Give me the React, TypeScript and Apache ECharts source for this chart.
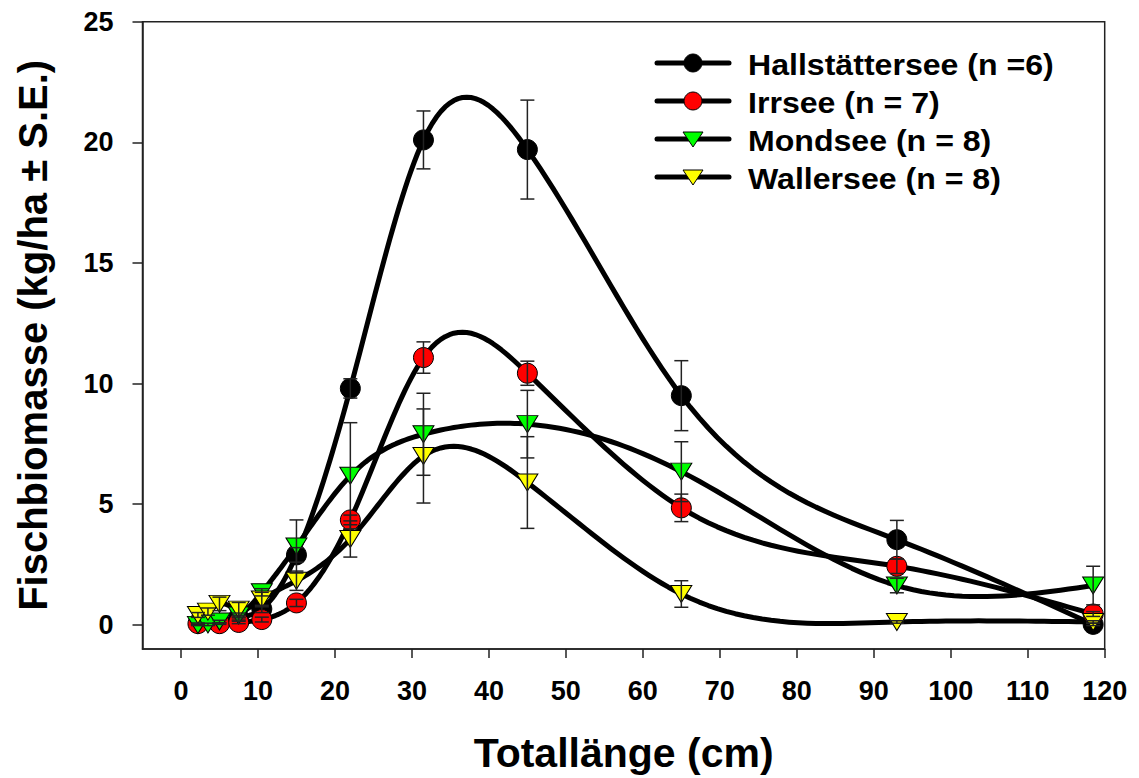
import React, { useEffect, useRef } from "react";
import * as echarts from "echarts";

// Totallänge-Klassen (cm) und Fischbiomasse (kg/ha) mit Standardfehler je See
const hallX = [7.5, 10.5, 15, 22, 31.5, 45, 65, 93, 118.5];
const hallY = [0.3, 0.66, 2.9, 9.8, 20.1, 19.7, 9.5, 3.53, 0.02];
const hallSE = [0.1, 0.15, 0.3, 0.4, 1.2, 2.05, 1.45, 0.8, 0.05];

const irrX = [2.2, 5, 7.5, 10.5, 15, 22, 31.5, 45, 65, 93, 118.5];
const irrY = [0.05, 0.05, 0.1, 0.22, 0.91, 4.35, 11.08, 10.43, 4.85, 2.43, 0.45];
const irrSE = [0.03, 0.03, 0.05, 0.1, 0.15, 0.2, 0.65, 0.5, 0.57, 0.3, 0.1];

const mondX = [2.2, 3.5, 5, 7.5, 10.5, 15, 22, 31.5, 45, 65, 93, 118.5];
const mondY = [0.0, 0.02, 0.14, 0.39, 1.35, 3.25, 6.18, 7.9, 8.32, 6.35, 1.63, 1.63];
const mondSE = [0.03, 0.05, 0.05, 0.1, 0.15, 1.1, 2.2, 1.7, 1.4, 1.24, 0.3, 0.8];

const wallX = [2.2, 3.5, 5, 7.5, 10.5, 15, 22, 31.5, 45, 65, 93, 118.5];
const wallY = [0.41, 0.55, 0.87, 0.63, 1.05, 1.83, 3.56, 7.0, 5.9, 1.28, 0.12, 0.12];
const wallSE = [0.1, 0.15, 0.28, 0.3, 0.3, 0.4, 0.75, 1.95, 1.9, 0.55, 0.05, 0.05];

const legendLabels = [
  "Hallstättersee (n =6)",
  "Irrsee (n = 7)",
  "Mondsee (n = 8)",
  "Wallersee (n = 8)",
];

const xTicks = [0, 10, 20, 30, 40, 50, 60, 70, 80, 90, 100, 110, 120];
const yTicks = [0, 5, 10, 15, 20, 25];

const FONT = "'Liberation Sans', Arial, Helvetica, sans-serif";
const AXIS_COLOR = "#222";

type Lake = {
  name: string;
  xs: number[];
  ys: number[];
  se: number[];
  symbol: string;
  color: string;
  border: string;
};

const lakes: Lake[] = [
  { name: legendLabels[0], xs: hallX, ys: hallY, se: hallSE, symbol: "circle", color: "#000000", border: "#000000" },
  { name: legendLabels[1], xs: irrX, ys: irrY, se: irrSE, symbol: "circle", color: "#ff0000", border: "#000000" },
  { name: legendLabels[2], xs: mondX, ys: mondY, se: mondSE, symbol: "triangle", color: "#00ff00", border: "#000000" },
  { name: legendLabels[3], xs: wallX, ys: wallY, se: wallSE, symbol: "triangle", color: "#ffff00", border: "#000000" },
];

// natural cubic spline through pixel points (x strictly increasing)
function splinePoints(pts: number[][], steps = 24): number[][] {
  const n = pts.length;
  if (n < 3) return pts;
  const x = pts.map((p) => p[0]);
  const y = pts.map((p) => p[1]);
  const h: number[] = [];
  for (let i = 0; i < n - 1; i++) h.push(x[i + 1] - x[i]);
  const a = new Array(n).fill(0);
  const b = new Array(n).fill(1);
  const c = new Array(n).fill(0);
  const d = new Array(n).fill(0);
  for (let i = 1; i < n - 1; i++) {
    a[i] = h[i - 1];
    b[i] = 2 * (h[i - 1] + h[i]);
    c[i] = h[i];
    d[i] = 6 * ((y[i + 1] - y[i]) / h[i] - (y[i] - y[i - 1]) / h[i - 1]);
  }
  // Thomas algorithm
  const cp = new Array(n).fill(0);
  const dp = new Array(n).fill(0);
  cp[0] = c[0] / b[0];
  dp[0] = d[0] / b[0];
  for (let i = 1; i < n; i++) {
    const m = b[i] - a[i] * cp[i - 1];
    cp[i] = c[i] / m;
    dp[i] = (d[i] - a[i] * dp[i - 1]) / m;
  }
  const M = new Array(n).fill(0);
  M[n - 1] = dp[n - 1];
  for (let i = n - 2; i >= 0; i--) M[i] = dp[i] - cp[i] * M[i + 1];
  M[0] = 0;
  M[n - 1] = 0;
  const out: number[][] = [];
  for (let i = 0; i < n - 1; i++) {
    const hi = h[i];
    for (let s = 0; s < steps; s++) {
      const t = x[i] + (hi * s) / steps;
      const A = x[i + 1] - t;
      const B = t - x[i];
      const v =
        (M[i] * A * A * A) / (6 * hi) +
        (M[i + 1] * B * B * B) / (6 * hi) +
        (y[i] / hi - (M[i] * hi) / 6) * A +
        (y[i + 1] / hi - (M[i + 1] * hi) / 6) * B;
      out.push([t, v]);
    }
  }
  out.push([x[n - 1], y[n - 1]]);
  return out;
}

function buildOption(): any {
  const series: any[] = [];

  lakes.forEach((lake) => {
    series.push({
      type: "custom",
      name: lake.name + " Kurve",
      coordinateSystem: "cartesian2d",
      z: 2,
      clip: false,
      silent: true,
      encode: { x: 0, y: 1 },
      data: [[lake.xs[0], lake.ys[0]]],
      renderItem: (_params: any, api: any) => {
        const pix = lake.xs.map((x, i) => api.coord([x, lake.ys[i]]));
        return {
          type: "polyline",
          shape: { points: splinePoints(pix) },
          style: { stroke: "#000", lineWidth: 5, fill: null, lineJoin: "round", lineCap: "round" },
        };
      },
    });
  });

  lakes.forEach((lake) => {
    series.push({
      type: "scatter",
      name: lake.name,
      z: 3,
      symbol: lake.symbol,
      symbolRotate: lake.symbol === "triangle" ? 180 : 0,
      symbolSize: lake.symbol === "triangle" ? [21, 17] : 20,
      itemStyle: { color: lake.color, borderColor: lake.border, borderWidth: 1, opacity: 1 },
      data: lake.xs.map((x, i) => [x, lake.ys[i]]),
    });
  });

  lakes.forEach((lake) => {
    series.push({
      type: "custom",
      name: lake.name + " S.E.",
      coordinateSystem: "cartesian2d",
      z: 4,
      clip: false,
      silent: true,
      encode: { x: 0, y: 1 },
      data: lake.xs.map((x, i) => [x, lake.ys[i], lake.se[i]]),
      renderItem: (_params: any, api: any) => {
        const x = api.value(0);
        const y = api.value(1);
        const e = api.value(2);
        const top = api.coord([x, y + e]);
        const bot = api.coord([x, y - e]);
        const hw = 7;
        const st = { stroke: "#222", lineWidth: 1.5 };
        return {
          type: "group",
          children: [
            { type: "line", shape: { x1: top[0], y1: top[1], x2: bot[0], y2: bot[1] }, style: st },
            { type: "line", shape: { x1: top[0] - hw, y1: top[1], x2: top[0] + hw, y2: top[1] }, style: st },
            { type: "line", shape: { x1: bot[0] - hw, y1: bot[1], x2: bot[0] + hw, y2: bot[1] }, style: st },
          ],
        };
      },
    });
  });

  // legend drawn as graphic elements
  const legendRows = [63, 101, 139, 177];
  const graphic: any[] = [];
  lakes.forEach((lake, i) => {
    const y = legendRows[i];
    graphic.push({
      type: "line",
      shape: { x1: 657, y1: y, x2: 729, y2: y },
      style: { stroke: "#000", lineWidth: 5, lineCap: "round" },
      z: 10,
    });
    if (lake.symbol === "circle") {
      graphic.push({
        type: "circle",
        shape: { cx: 693, cy: y, r: 9 },
        style: { fill: lake.color, stroke: lake.border, lineWidth: 1 },
        z: 11,
      });
    } else {
      graphic.push({
        type: "polygon",
        shape: { points: [[683, y - 7], [703, y - 7], [693, y + 8]] },
        style: { fill: lake.color, stroke: lake.border, lineWidth: 1 },
        z: 11,
      });
    }
    graphic.push({
      type: "text",
      x: 748,
      y: y + 1.5,
      scaleX: 1.07,
      style: {
        text: legendLabels[i],
        fontFamily: FONT,
        fontWeight: "bold",
        fontSize: 30,
        fill: "#000",
        textVerticalAlign: "middle",
        textAlign: "left",
      },
      z: 11,
    });
  });

  return {
    animation: false,
    backgroundColor: "#ffffff",
    grid: {
      left: 142.5,
      right: 34.3,
      top: 21.7,
      bottom: 128,
      show: true,
      borderColor: AXIS_COLOR,
      borderWidth: 1.5,
      backgroundColor: "transparent",
    },
    xAxis: {
      type: "value",
      min: -5,
      max: 120,
      name: "Totallänge (cm)",
      nameLocation: "middle",
      nameGap: 83,
      nameTextStyle: { fontFamily: FONT, fontWeight: "bold", fontSize: 41, color: "#000" },
      axisLine: { show: true, onZero: false, lineStyle: { color: AXIS_COLOR, width: 1.5 } },
      axisTick: { show: true, length: 9, customValues: xTicks, lineStyle: { color: AXIS_COLOR, width: 1.5 } },
      axisLabel: {
        customValues: xTicks,
        margin: 28,
        fontFamily: FONT,
        fontWeight: "bold",
        fontSize: 27,
        color: "#000",
      },
      splitLine: { show: false },
    },
    yAxis: {
      type: "value",
      min: -1,
      max: 25,
      name: "Fischbiomasse (kg/ha ± S.E.)",
      nameLocation: "middle",
      nameGap: 90,
      nameTextStyle: { fontFamily: FONT, fontWeight: "bold", fontSize: 40, color: "#000" },
      axisLine: { show: true, onZero: false, lineStyle: { color: AXIS_COLOR, width: 1.5 } },
      axisTick: { show: true, length: 10, customValues: yTicks, lineStyle: { color: AXIS_COLOR, width: 1.5 } },
      axisLabel: {
        customValues: yTicks,
        margin: 29,
        fontFamily: FONT,
        fontWeight: "bold",
        fontSize: 27,
        color: "#000",
      },
      splitLine: { show: false },
    },
    graphic,
    series,
  };
}

export default function App() {
  const ref = useRef<HTMLDivElement>(null);
  useEffect(() => {
    if (!ref.current) return;
    const chart = echarts.init(ref.current, undefined, { renderer: "svg" });
    chart.setOption(buildOption());
    return () => chart.dispose();
  }, []);
  return (
    <div
      ref={ref}
      style={{ position: "absolute", left: 0, top: 0, width: 1139, height: 778, background: "#fff" }}
    />
  );
}
